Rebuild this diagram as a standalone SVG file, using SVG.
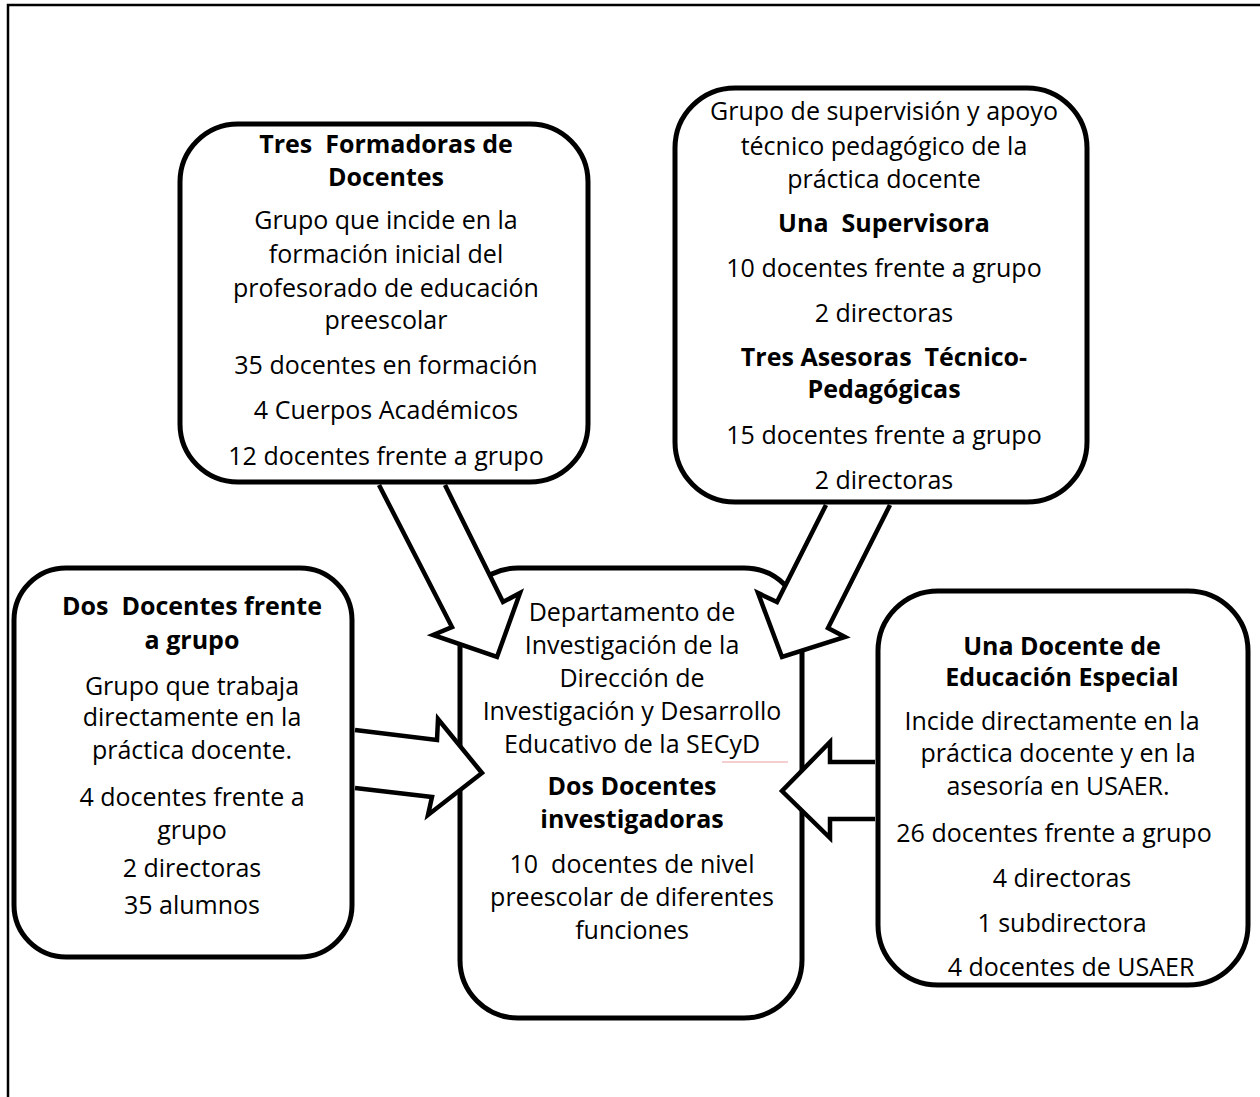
<svg xmlns="http://www.w3.org/2000/svg" width="1260" height="1097" viewBox="0 0 1260 1097">
<style>
.box{fill:#fff;stroke:#000;stroke-width:5}
.arr{fill:none;stroke:#000;stroke-width:4.5;stroke-linejoin:miter}
.fr{fill:none;stroke:#000;stroke-width:2.5}
text{font-family:"Open Sans","Noto Sans","DejaVu Sans",sans-serif;font-size:25px;fill:#000;text-anchor:middle;white-space:pre}
.b{font-weight:bold}
</style>
<rect width="1260" height="1097" fill="#fff"/>
<path class="fr" d="M8,1097 V5 H1260"/>
<g id="n1">
<rect class="box" x="180" y="124" width="408" height="358" rx="58"/>
<text class="b" x="386" y="153">Tres  Formadoras de</text>
<text class="b" x="386" y="186">Docentes</text>
<text x="386" y="229">Grupo que incide en la</text>
<text x="386" y="263">formación inicial del</text>
<text x="386" y="297">profesorado de educación</text>
<text x="386" y="329">preescolar</text>
<text x="386" y="374">35 docentes en formación</text>
<text x="386" y="419">4 Cuerpos Académicos</text>
<text x="386" y="465">12 docentes frente a grupo</text>
</g>
<g id="n2">
<rect class="box" x="675" y="88" width="412" height="414" rx="60"/>
<text x="884" y="120">Grupo de supervisión y apoyo</text>
<text x="884" y="155">técnico pedagógico de la</text>
<text x="884" y="188">práctica docente</text>
<text class="b" x="884" y="232">Una  Supervisora</text>
<text x="884" y="277">10 docentes frente a grupo</text>
<text x="884" y="322">2 directoras</text>
<text class="b" x="884" y="366">Tres Asesoras  Técnico-</text>
<text class="b" x="884" y="398">Pedagógicas</text>
<text x="884" y="444">15 docentes frente a grupo</text>
<text x="884" y="489">2 directoras</text>
</g>
<g id="n3">
<rect class="box" x="14" y="568" width="338" height="389" rx="52"/>
<text class="b" x="192" y="615">Dos  Docentes frente</text>
<text class="b" x="192" y="649">a grupo</text>
<text x="192" y="695">Grupo que trabaja</text>
<text x="192" y="726">directamente en la</text>
<text x="192" y="759">práctica docente.</text>
<text x="192" y="806">4 docentes frente a</text>
<text x="192" y="839">grupo</text>
<text x="192" y="877">2 directoras</text>
<text x="192" y="914">35 alumnos</text>
</g>
<g id="n5">
<rect class="box" x="878" y="591" width="370" height="394" rx="60"/>
<text class="b" x="1062" y="655">Una Docente de</text>
<text class="b" x="1062" y="686">Educación Especial</text>
<text x="1052" y="730">Incide directamente en la</text>
<text x="1058" y="762">práctica docente y en la</text>
<text x="1058" y="795">asesoría en USAER.</text>
<text x="1054" y="842">26 docentes frente a grupo</text>
<text x="1062" y="887">4 directoras</text>
<text x="1062" y="932">1 subdirectora</text>
<text x="1071" y="976">4 docentes de USAER</text>
</g>
<g id="n4">
<rect class="box" x="460" y="568" width="342" height="450" rx="58"/>
<text x="632" y="621">Departamento de</text>
<text x="632" y="654">Investigación de la</text>
<text x="632" y="687">Dirección de</text>
<text x="632" y="720">Investigación y Desarrollo</text>
<text x="632" y="753">Educativo de la SECyD</text>
<path d="M722,762 H788" stroke="#e8a0a0" stroke-width="1.2" fill="none"/>
<text class="b" x="632" y="795">Dos Docentes</text>
<text class="b" x="632" y="828">investigadoras</text>
<text x="632" y="873">10  docentes de nivel</text>
<text x="632" y="906">preescolar de diferentes</text>
<text x="632" y="939">funciones</text>
</g>
<g id="connectors">
<polygon points="379,485 452,627 433,635 497,657 520,593 503,602 445,485" fill="#fff"/>
<polyline class="arr" points="379,485 452,627 433,635 497,657 520,593 503,602 445,485"/>
<polygon points="826,505 777,602 758,593 782,657 845,637 828,628 890,505" fill="#fff"/>
<polyline class="arr" points="826,505 777,602 758,593 782,657 845,637 828,628 890,505"/>
<polygon points="355,730 437,740 438,719 482,773 428,815 432,797 355,788" fill="#fff"/>
<polyline class="arr" points="355,730 437,740 438,719 482,773 428,815 432,797 355,788"/>
<polygon points="875,762 830,762 830,742 782,791 830,838 830,819 875,819" fill="#fff"/>
<polyline class="arr" points="875,762 830,762 830,742 782,791 830,838 830,819 875,819"/>
</g>
</svg>
